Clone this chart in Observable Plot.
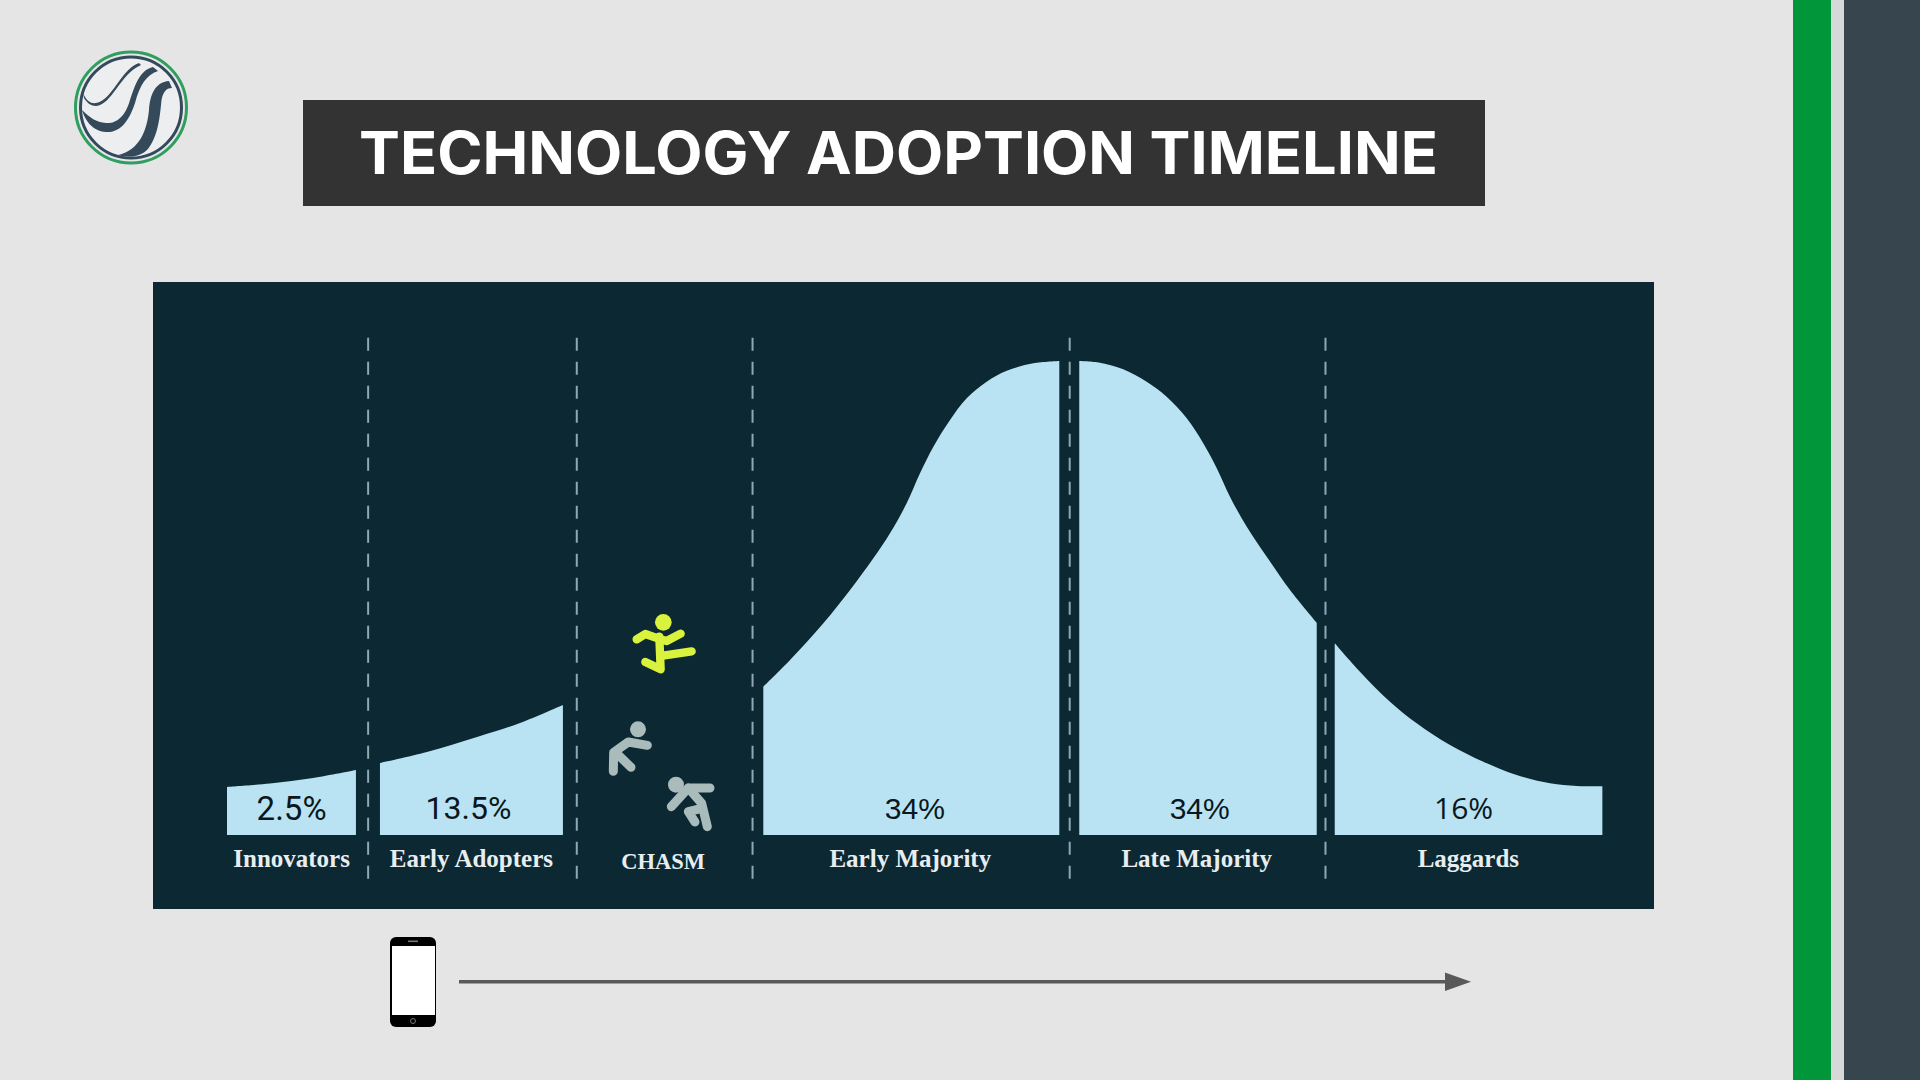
<!DOCTYPE html>
<html><head><meta charset="utf-8">
<style>
html,body{margin:0;padding:0;width:1920px;height:1080px;background:#e5e5e5;overflow:hidden}
#title{position:absolute;left:303px;top:100px;width:1182px;height:106px;background:#333333;}
#title span{position:absolute;left:56px;top:0;color:#fff;font:700 59px/106px Inter,sans-serif;white-space:nowrap;transform:scaleX(1.039);transform-origin:left center}
.bar{position:absolute;top:0;height:1080px}
#chart{position:absolute;left:153px;top:282px}
#deco{position:absolute;left:0;top:0}
</style>
<script src="https://cdn.jsdelivr.net/npm/d3@7"></script>
<script src="https://cdn.jsdelivr.net/npm/@observablehq/plot@0.6"></script>
</head><body>
<div class="bar" style="left:1793px;width:38px;background:#009639"></div>
<div class="bar" style="left:1831px;width:13px;background:#d6d9d7"></div>
<div class="bar" style="left:1844px;width:76px;background:#37454f"></div>
<div id="title"><span>TECHNOLOGY ADOPTION TIMELINE</span></div>
<div id="chart"></div>
<svg id="deco" width="1920" height="1080" viewBox="0 0 1920 1080">
  <!-- logo -->
  <g>
    <circle cx="131" cy="107.5" r="55.5" fill="#e6e7ea" stroke="#2f9e5f" stroke-width="3"/>
    <circle cx="131" cy="107.5" r="50.5" fill="#eceef0" stroke="#34495a" stroke-width="3"/>
    <path d="M139 63C120 70 113 100 96 103C90 104 86 100 83 93L84 98C87 103 91 106 96 106C112 105 120 74 141 65Z" fill="#34495a"/>
    <path d="M153 67C140 70 135 85 130 100C125 118 115 124 106 123C96 122 90 118 82 110C85 120 92 131 106 132C122 133 130 118 135 103C140 85 146 75 158 71Z" fill="#34495a"/>
    <path d="M169 81C155 82 150 95 149 110C147 130 140 150 118 155C128 158 140 157 147 150C158 138 160 115 161 105C162 92 166 88 172 88Z" fill="#34495a"/>
  </g>
  <!-- runners -->
  <g transform="translate(560,580) scale(0.3333)" fill="none" stroke-linecap="round" stroke-linejoin="round">
    <g stroke="#d9f23e" stroke-width="25">
      <circle cx="310" cy="127" r="25" fill="#d9f23e" stroke="none"/>
      <path d="M230 178L256 162L296 176L320 183L362 161"/>
      <path d="M298 170L302 268L256 246"/>
      <path d="M304 228L395 214"/>
    </g>
    <g stroke="#a9bcbb" stroke-width="27">
      <circle cx="234" cy="448" r="24" fill="#a9bcbb" stroke="none"/>
      <path d="M160 574L161 517L205 486L262 496"/>
      <path d="M175 525L213 562"/>
      <circle cx="348" cy="614" r="24" fill="#a9bcbb" stroke="none"/>
      <path d="M450 624L385 624L334 680"/>
      <path d="M385 624L425 670L442 740"/>
      <path d="M425 685L385 695L405 726"/>
    </g>
  </g>
  <!-- phone -->
  <g>
    <rect x="390" y="937" width="46" height="90" rx="6" fill="#000"/>
    <rect x="392" y="946" width="43" height="69" fill="#fff"/>
    <rect x="408" y="940.5" width="10" height="1.6" fill="#777"/>
    <circle cx="413" cy="1021" r="2.5" fill="none" stroke="#777" stroke-width="1"/>
  </g>
  <!-- arrow -->
  <path d="M459 981.7H1446" stroke="#595959" stroke-width="3.4" fill="none"/>
  <path d="M1445 972.4L1471 981.7L1445 991Z" fill="#595959"/>
</svg>
<script>
const innovatorsX=[4.93,7.79,10.66,13.52], innovatorsY=[10.13,10.86,12.03,13.71];
const adoptersX=[15.12,18.25,21.59,24.45,27.31], adoptersY=[15.19,17.51,20.68,23.63,27.43];
const earlyX=[40.66,42.44,44.66,46.44,47.99,49.10,50.21,51.10,51.99,53.10,54.21,55.54,56.88,58.65,60.38];
const earlyY=[31.29,36.92,44.66,51.69,58.37,63.65,69.98,76.31,81.92,87.55,92.13,95.63,97.95,99.51,100];
const lateX=[61.71,63.09,64.64,66.20,67.53,68.87,69.97,70.87,71.75,72.87,74.20,75.75,77.53];
const lateY=[100,99.64,98.25,95.63,92.47,87.91,82.64,77.36,71.37,65.04,58.71,51.69,44.79];
const laggardsX=[78.73,80.41,82.41,84.19,86.41,88.63,90.85,93.07,94.85,96.56];
const laggardsY=[40.44,34.45,28.12,23.57,18.99,15.46,12.66,10.91,10.34,10.27];
const boundaries=[14.30,28.20,39.91,61.04,78.08];
const categories=["Innovators","Early Adopters","Early Majority","Late Majority","Laggards"];
const labelX=[9.2,21.18,50.42,69.5,87.6];
const gapLabel="CHASM", gapLabelX=33.95;
const shares=["2.5%","13.5%","34%","34%","16%"];
const shareX=[9.2,20.98,50.72,69.7,87.28];

const segs=[[innovatorsX,innovatorsY],[adoptersX,adoptersY],[earlyX,earlyY],[lateX,lateY],[laggardsX,laggardsY]];
const rows=segs.flatMap(([xs,ys],s)=>xs.map((x,i)=>({s,x,y:ys[i]})));
const shareStyle=[["Roboto",33],["Roboto",32],["Liberation Sans",30],["Liberation Sans",30],["Open Sans",30]];

const chart=Plot.plot({
  width:1501,height:627,margin:0,
  x:{domain:[0,100],range:[0,1501],axis:null},
  y:{domain:[0,100],range:[553,79],axis:null},
  style:{background:"#0c2833"},
  marks:[
    Plot.ruleX(boundaries,{x:d=>d,y1:104.9,y2:-10.9,stroke:"#8fa9b2",strokeWidth:2,strokeDasharray:"13,11"}),
    Plot.areaY(rows,{x:"x",y:"y",z:"s",fill:"#b9e3f2",curve:"catmull-rom"}),
    ...shares.map((t,i)=>Plot.text([t],{x:[shareX[i]],y:[5.6],text:d=>d,fill:"#0a1620",fontSize:shareStyle[i][1],fontFamily:shareStyle[i][0]})),
    Plot.text(categories,{x:(d,i)=>labelX[i],y:-4.9,text:d=>d,fill:"#e8eef0",fontSize:25,fontWeight:700,fontFamily:"Liberation Serif"}),
    Plot.text([gapLabel],{x:[gapLabelX],y:-5.6,text:d=>d,fill:"#e8eef0",fontSize:22.5,fontWeight:700,fontFamily:"Liberation Serif"})
  ]
});
document.getElementById("chart").appendChild(chart);
</script>
</body></html>
